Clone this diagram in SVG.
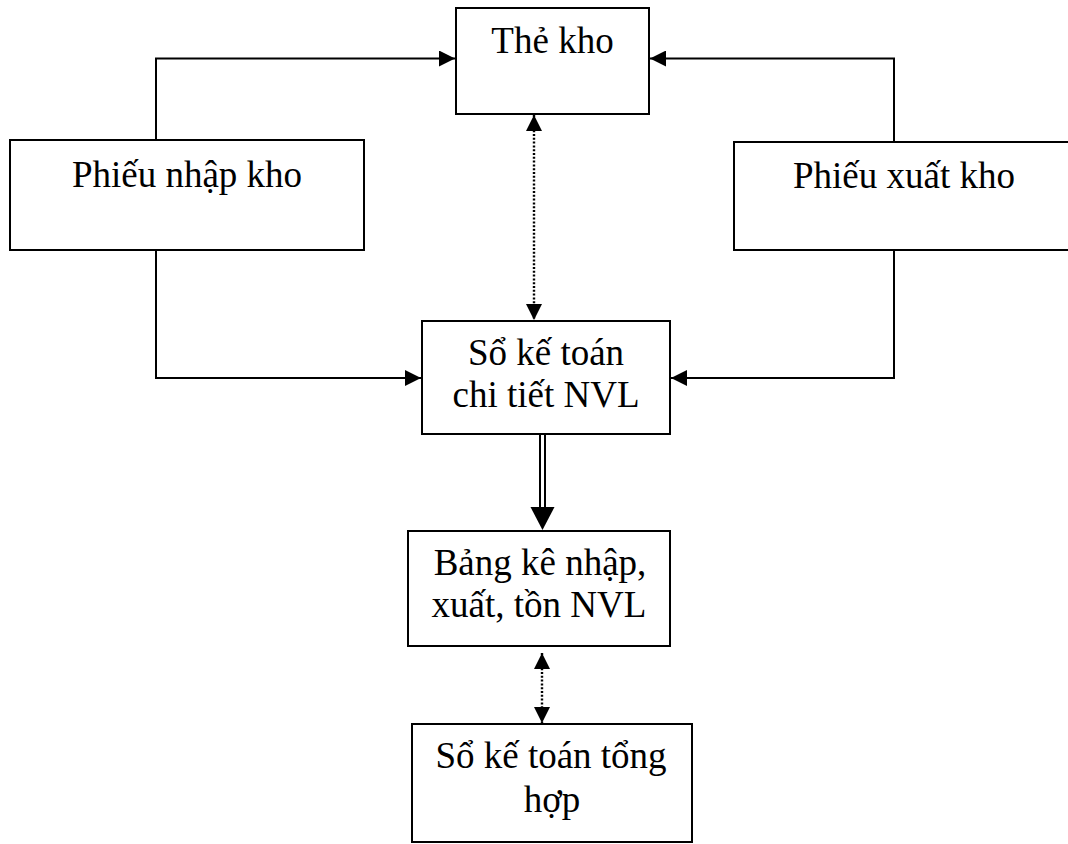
<svg xmlns="http://www.w3.org/2000/svg" width="1068" height="844" viewBox="0 0 1068 844">
  <style>
    .box { fill: #ffffff; stroke: #000000; stroke-width: 2; }
    .label { font-family: "Liberation Serif", "Times New Roman", serif; font-size: 37px; fill: #000000; text-anchor: middle; }
    .link { fill: none; stroke: #000000; stroke-width: 2; }
    .dotted { fill: none; stroke: #000000; stroke-width: 2.4; stroke-dasharray: 2 1.8; }
  </style>
  <defs>
    <marker id="arrow" markerUnits="userSpaceOnUse" markerWidth="16" markerHeight="16" refX="16" refY="8" orient="auto-start-reverse" viewBox="0 0 16 16">
      <path d="M0,0 L16,8 L0,16 Z" fill="#000000"/>
    </marker>
  </defs>

  <rect width="1068" height="844" fill="#ffffff"/>

  <!-- connectors -->
  <g id="connectors">
    <polyline class="link" points="156,140 156,58.5 455,58.5" marker-end="url(#arrow)"/>
    <polyline class="link" points="156,251 156,378 421,378" marker-end="url(#arrow)"/>
    <polyline class="link" points="894,142 894,58.5 650,58.5" marker-end="url(#arrow)"/>
    <polyline class="link" points="894,251 894,378 671,378" marker-end="url(#arrow)"/>
    <line class="dotted" x1="534" y1="115" x2="534" y2="320" marker-start="url(#arrow)" marker-end="url(#arrow)"/>
    <!-- double-line arrow -->
    <line x1="540" y1="435" x2="540" y2="508" stroke="#000000" stroke-width="2"/>
    <line x1="545" y1="435" x2="545" y2="508" stroke="#000000" stroke-width="2"/>
    <path d="M530.5,507 L554.5,507 L542.5,530 Z" fill="#000000"/>
    <line class="dotted" x1="542" y1="653" x2="542" y2="723" marker-start="url(#arrow)" marker-end="url(#arrow)"/>
  </g>

  <g id="the-kho">
    <rect class="box" x="456" y="8" width="193" height="106"/>
    <text class="label" x="552.5" y="53">Thẻ kho</text>
  </g>

  <g id="phieu-nhap-kho">
    <rect class="box" x="10" y="140" width="354" height="110"/>
    <text class="label" x="187" y="187">Phiếu nhập kho</text>
  </g>

  <g id="phieu-xuat-kho">
    <rect class="box" x="734" y="142" width="340" height="108"/>
    <text class="label" x="904" y="188">Phiếu xuất kho</text>
  </g>

  <g id="so-ke-toan-chi-tiet">
    <rect class="box" x="422" y="321" width="248" height="113"/>
    <text class="label" x="546" y="365">Sổ kế toán</text>
    <text class="label" x="546" y="407">chi tiết NVL</text>
  </g>

  <g id="bang-ke">
    <rect class="box" x="408" y="531" width="262" height="115"/>
    <text class="label" x="540" y="575">Bảng kê nhập,</text>
    <text class="label" x="539" y="617">xuất, tồn NVL</text>
  </g>

  <g id="so-ke-toan-tong-hop">
    <rect class="box" x="412" y="724" width="280" height="118"/>
    <text class="label" x="551" y="768">Sổ kế toán tổng</text>
    <text class="label" x="552" y="812">hợp</text>
  </g>
</svg>
